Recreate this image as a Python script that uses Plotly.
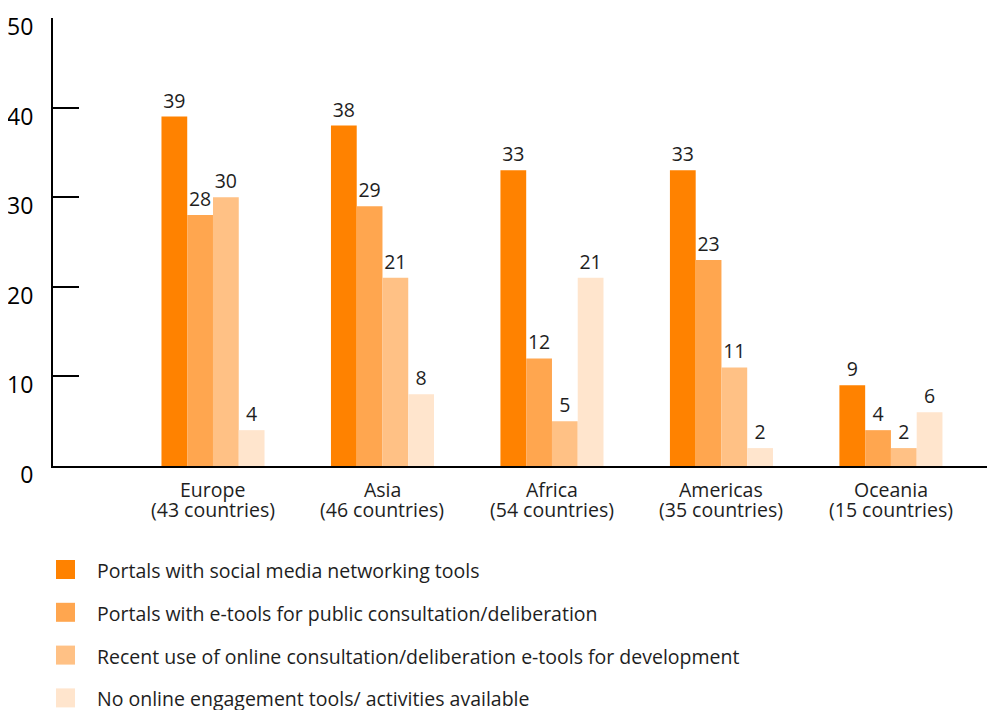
import plotly.graph_objects as go

# --- data ---
regions = ["Europe", "Asia", "Africa", "Americas", "Oceania"]
country_counts = [43, 46, 54, 35, 15]

series_names = [
    "Portals with social media networking tools",
    "Portals with e-tools for public consultation/deliberation",
    "Recent use of online consultation/deliberation e-tools for development",
    "No online engagement tools/ activities available",
]
social_media = [39, 38, 33, 33, 9]
public_consultation = [28, 29, 12, 23, 4]
recent_online_use = [30, 21, 5, 11, 2]
no_engagement = [4, 8, 21, 2, 6]

series_values = [social_media, public_consultation, recent_online_use, no_engagement]
series_colors = ["#FF8200", "#FFA64F", "#FFC185", "#FFE5CD"]

y_ticks = [0, 10, 20, 30, 40, 50]

# --- layout constants (pixels, as seen in the 995x710 window) ---
# the page body has an 8px margin, so the figure itself starts at (8, 8)
OFF = 8
W, H = 995 - OFF, 710 - OFF
PLOT_L, PLOT_R, PLOT_T, PLOT_B = 53 - OFF, 995 - OFF, 18 - OFF, 466 - OFF
FONT = "Open Sans, Noto Sans, sans-serif"
TEXT_COLOR = "#1e1e1e"
TEXT_SIZE = 19.5


def px_x(px):
    return (px - OFF - PLOT_L) / (PLOT_R - PLOT_L)


def px_y(py):
    return (PLOT_B - (py - OFF)) / (PLOT_B - PLOT_T)


fig = go.Figure()
for name, vals, color in zip(series_names, series_values, series_colors):
    fig.add_trace(
        go.Bar(
            x=regions,
            y=vals,
            name=name,
            marker=dict(color=color, line=dict(width=0)),
            text=[str(v) for v in vals],
            textposition="outside",
            textfont=dict(family=FONT, size=TEXT_SIZE, color=TEXT_COLOR),
            constraintext="none",
            cliponaxis=False,
            showlegend=False,
        )
    )

annotations = []
# two-line category labels (tight line spacing)
for region, n in zip(regions, country_counts):
    for text, cy in ((region, 489), (f"({n} countries)", 509)):
        annotations.append(
            dict(
                xref="x",
                yref="paper",
                x=region,
                y=px_y(cy),
                xanchor="center",
                yanchor="middle",
                text=text,
                showarrow=False,
                font=dict(family=FONT, size=TEXT_SIZE, color=TEXT_COLOR),
            )
        )

# manual legend below the chart
shapes = []
legend_top = 569.5
legend_step = 42.8
for i, (name, color) in enumerate(zip(series_names, series_colors)):
    cy = legend_top + i * legend_step
    shapes.append(
        dict(
            type="rect",
            xref="paper",
            yref="paper",
            x0=px_x(56),
            x1=px_x(75),
            y0=px_y(cy - 9.5),
            y1=px_y(cy + 9.5),
            fillcolor=color,
            line=dict(width=0),
        )
    )
    annotations.append(
        dict(
            xref="paper",
            yref="paper",
            x=px_x(95),
            y=px_y(cy + 1),
            xanchor="left",
            yanchor="middle",
            text=name,
            showarrow=False,
            font=dict(family=FONT, size=TEXT_SIZE, color=TEXT_COLOR),
        )
    )

fig.update_layout(
    width=W,
    height=H,
    margin=dict(l=PLOT_L, r=W - PLOT_R, t=PLOT_T, b=H - PLOT_B, pad=0),
    paper_bgcolor="white",
    plot_bgcolor="white",
    barmode="group",
    bargap=0.392,
    bargroupgap=0,
    showlegend=False,
    font=dict(family=FONT, color=TEXT_COLOR),
    shapes=shapes,
    annotations=annotations,
)

fig.update_xaxes(
    range=[-0.944, 4.614],
    automargin=False,
    showline=True,
    linecolor="black",
    linewidth=2,
    ticks="",
    showticklabels=False,
    showgrid=False,
    zeroline=False,
)
fig.update_yaxes(
    range=[0, 50],
    automargin=False,
    tickvals=y_ticks,
    showline=True,
    linecolor="black",
    linewidth=2,
    ticks="inside",
    ticklen=26,
    tickwidth=2,
    tickcolor="black",
    showgrid=False,
    zeroline=False,
    tickfont=dict(family=FONT, size=23, color="black"),
    ticklabelstandoff=13,
    ticklabelshift=9,
    ticklabeloverflow="allow",
)

fig.write_html("out.html")
